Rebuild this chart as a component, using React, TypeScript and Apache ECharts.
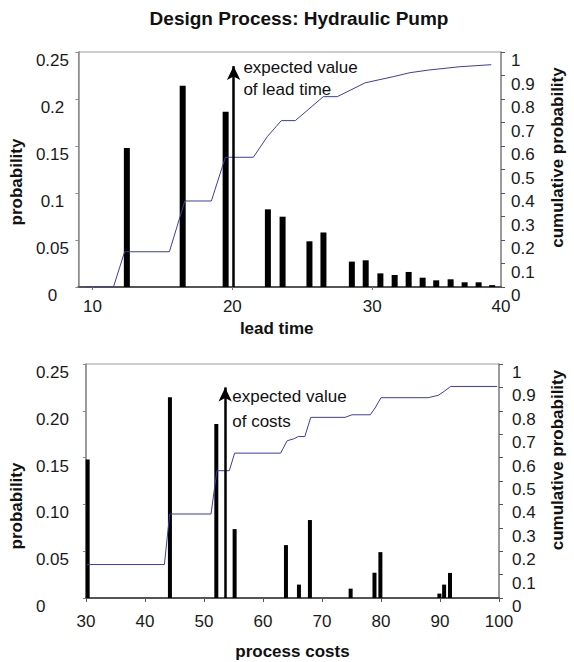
import React, { useEffect, useRef } from "react";
import * as echarts from "echarts";

// ---------- Data: lead time ----------
const leadBarX = [12.46, 16.45, 19.52, 22.54, 23.59, 25.51, 26.51, 28.54, 29.53, 30.58, 31.6, 32.6, 33.6, 34.57, 35.6, 36.6, 37.6, 38.57];
const leadBarP = [0.148, 0.214, 0.1865, 0.0826, 0.0748, 0.0486, 0.058, 0.027, 0.0284, 0.0145, 0.0128, 0.016, 0.0099, 0.0071, 0.0082, 0.005, 0.005, 0.002];
const leadCumX = [9.5, 11.5, 12.3, 15.5, 16.6, 18.5, 19.5, 21.5, 22.5, 23.5, 24.5, 26.5, 27.5, 29.5, 31.5, 32.7, 34.0, 36.2, 38.5];
const leadCumP = [0, 0, 0.15, 0.15, 0.366, 0.366, 0.552, 0.552, 0.64, 0.708, 0.708, 0.81, 0.81, 0.869, 0.895, 0.912, 0.923, 0.937, 0.946];
const leadExpected = 20.09;
const leadTicks = [10, 20, 30, 39.2];
const leadTickLabels = ["10", "20", "30", "40"];

// ---------- Data: process costs ----------
const costBarX = [30.3, 44.24, 52.1, 55.2, 63.9, 66.1, 67.96, 74.86, 78.9, 79.9, 89.9, 90.7, 91.7];
const costBarP = [0.148, 0.2144, 0.186, 0.0736, 0.0565, 0.0143, 0.0833, 0.01, 0.027, 0.049, 0.0047, 0.0143, 0.0268];
const costCumX = [30.2, 43.3, 44.2, 51.2, 52.2, 54.3, 55.2, 63.0, 64.1, 65.2, 66.0, 67.1, 68.1, 73.9, 75.1, 78.2, 79.0, 80.0, 88.0, 89.7, 90.7, 91.8, 99.7];
const costCumP = [0.143, 0.143, 0.359, 0.359, 0.544, 0.544, 0.619, 0.619, 0.672, 0.68, 0.69, 0.69, 0.772, 0.772, 0.783, 0.783, 0.812, 0.856, 0.856, 0.866, 0.883, 0.904, 0.904];
const costExpected = 53.6;

// ---------- Tick labels ----------
const topProbLabels = ["0", "0.05", "0.1", "0.15", "0.2", "0.25"];
const bottomProbLabels = ["0", "0.05", "0.10", "0.15", "0.20", "0.25"];
const cumLabels = ["0", "0.1", "0.2", "0.3", "0.4", "0.5", "0.6", "0.7", "0.8", "0.9", "1"];

const FONT = "'Liberation Sans', Arial, Helvetica, sans-serif";
const zip = (xs: number[], ys: number[]) => xs.map((x, i) => [x, ys[i]]);

export default function App() {
  const ref = useRef<HTMLDivElement>(null);
  useEffect(() => {
    if (!ref.current) return;
    const chart = echarts.init(ref.current, undefined, { renderer: "svg" });
    const axisGray = "#8a8a8a";
    const labelStyle = { fontFamily: FONT, fontSize: 17, color: "#1a1a1a" };
    const nameStyle = { fontFamily: FONT, fontSize: 17, fontWeight: "bold" as const, color: "#111" };

    const leftY = (grid: number, labels: string[], margin: number, align: string, nameGap: number, namePad: number[]) => ({
      type: "value",
      gridIndex: grid,
      position: "left",
      min: 0,
      max: 0.25,
      interval: 0.05,
      name: "probability",
      nameLocation: "middle",
      nameGap,
      nameTextStyle: { ...nameStyle, padding: namePad },
      axisLine: { show: true, lineStyle: { color: axisGray, width: 1.5 } },
      axisTick: { show: true, length: 3, lineStyle: { color: axisGray } },
      splitLine: { show: false },
      axisLabel: {
        ...labelStyle,
        margin,
        align,
        verticalAlign: "top",
        formatter: (_v: number, i: number) => labels[i],
      },
    });
    const rightY = (grid: number, margin: number, nameGap: number, namePad: number[]) => ({
      type: "value",
      gridIndex: grid,
      position: "right",
      min: 0,
      max: 1,
      interval: 0.1,
      name: "cumulative probability",
      nameLocation: "middle",
      nameGap,
      nameRotate: 90,
      nameTextStyle: { ...nameStyle, padding: namePad },
      axisLine: { show: true, lineStyle: { color: axisGray, width: 1.5 } },
      axisTick: { show: true, length: 4, lineStyle: { color: "#555" } },
      splitLine: { show: false },
      axisLabel: {
        ...labelStyle,
        margin,
        verticalAlign: "top",
        formatter: (_v: number, i: number) => cumLabels[i],
      },
    });

    const option: any = {
      animation: false,
      backgroundColor: "#ffffff",
      title: {
        text: "Design Process: Hydraulic Pump",
        left: 294,
        top: 4,
        textAlign: "center",
        textStyle: { fontFamily: FONT, fontSize: 19, fontWeight: "bold", color: "#111" },
      },
      grid: [
        { left: 76, top: 52, width: 433, height: 235, show: true, borderColor: "#9a9a9a", borderWidth: 1, backgroundColor: "transparent" },
        { left: 81, top: 364, width: 429, height: 234, show: true, borderColor: "#9a9a9a", borderWidth: 1, backgroundColor: "transparent" },
      ],
      xAxis: [
        {
          type: "value",
          gridIndex: 0,
          min: 9,
          max: 39.2,
          name: "lead time",
          nameLocation: "middle",
          nameGap: 33,
          nameTextStyle: { ...nameStyle, padding: [0, 26, 0, 0] },
          axisLine: { show: true, lineStyle: { color: "#555", width: 2 } },
          axisTick: { show: true, length: 3, customValues: leadTicks.slice(0, 3), lineStyle: { color: "#777" } },
          splitLine: { show: false },
          axisLabel: {
            ...labelStyle,
            margin: 11,
            customValues: leadTicks,
            formatter: (v: number) => leadTickLabels[leadTicks.indexOf(v)] ?? "",
          },
        },
        {
          type: "value",
          gridIndex: 1,
          min: 30,
          max: 100,
          interval: 10,
          name: "process costs",
          nameLocation: "middle",
          nameGap: 45,
          nameTextStyle: nameStyle,
          axisLine: { show: true, lineStyle: { color: "#555", width: 2 } },
          axisTick: { show: true, length: 4, lineStyle: { color: "#555" } },
          splitLine: { show: false },
          axisLabel: { ...labelStyle, margin: 15 },
        },
      ],
      yAxis: [
        leftY(0, topProbLabels, 26, "center", 50, [0, 25, 0, 0]),
        rightY(0, 10, 48, [0, 0, 0, 24]),
        leftY(1, bottomProbLabels, 50, "left", 55, [0, 50, 0, 0]),
        rightY(1, 13, 50, [0, 0, 0, 42]),
      ],
      series: [
        {
          type: "bar",
          xAxisIndex: 0,
          yAxisIndex: 0,
          barWidth: 6,
          itemStyle: { color: "#000" },
          data: zip(leadBarX, leadBarP),
          markLine: {
            silent: true,
            symbol: ["none", "arrow"],
            symbolSize: [10, 14],
            lineStyle: { color: "#000", width: 2.5, type: "solid" },
            label: { show: false },
            data: [[{ coord: [leadExpected, 0] }, { coord: [leadExpected, 0.235] }]],
          },
          markPoint: {
            silent: true,
            symbol: "circle",
            symbolSize: 0,
            data: [
              {
                coord: [leadExpected + 0.7, 0.2223],
                label: {
                  show: true,
                  position: "right",
                  distance: 0,
                  formatter: "expected value\nof lead time",
                  fontFamily: FONT,
                  fontSize: 17,
                  lineHeight: 22,
                  color: "#111",
                },
              },
            ],
          },
        },
        {
          type: "line",
          xAxisIndex: 0,
          yAxisIndex: 1,
          showSymbol: false,
          symbol: "none",
          lineStyle: { color: "#3c3ca8", width: 1 },
          data: zip(leadCumX, leadCumP),
        },
        {
          type: "bar",
          xAxisIndex: 1,
          yAxisIndex: 2,
          barWidth: 4,
          itemStyle: { color: "#000" },
          data: zip(costBarX, costBarP),
          markLine: {
            silent: true,
            symbol: ["none", "arrow"],
            symbolSize: [10, 14],
            lineStyle: { color: "#000", width: 2.5, type: "solid" },
            label: { show: false },
            data: [[{ coord: [costExpected, 0] }, { coord: [costExpected, 0.225] }]],
          },
          markPoint: {
            silent: true,
            symbol: "circle",
            symbolSize: 0,
            data: [
              {
                coord: [costExpected + 1.2, 0.2022],
                label: {
                  show: true,
                  position: "right",
                  distance: 0,
                  formatter: "expected value\nof costs",
                  fontFamily: FONT,
                  fontSize: 17,
                  lineHeight: 25,
                  color: "#111",
                },
              },
            ],
          },
        },
        {
          type: "line",
          xAxisIndex: 1,
          yAxisIndex: 3,
          showSymbol: false,
          symbol: "none",
          lineStyle: { color: "#3c3ca8", width: 1 },
          data: zip(costCumX, costCumP),
        },
      ],
    };
    chart.setOption(option);
    return () => chart.dispose();
  }, []);
  return (
    <div
      ref={ref}
      style={{ position: "absolute", left: 0, top: 0, width: 574, height: 662, background: "#fff" }}
    />
  );
}
